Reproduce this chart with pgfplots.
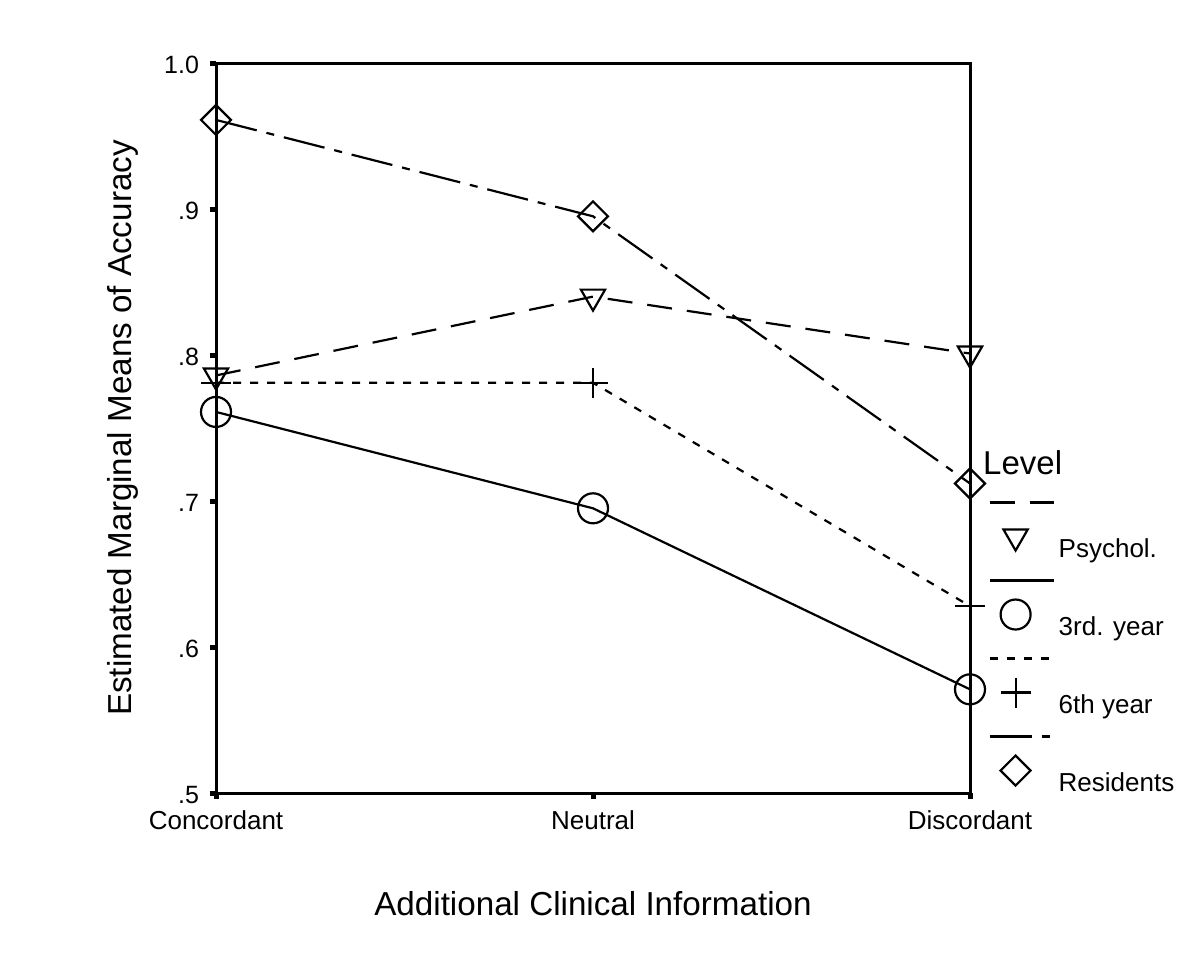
\documentclass[border=0pt]{standalone}
\usepackage{fontspec}
\setmainfont{Liberation Sans}
\usepackage{pgfplots}
\pgfplotsset{compat=1.18}
\begin{document}
\begin{tikzpicture}
\path[use as bounding box] (0,0) rectangle (599.5pt,480pt);
\begin{axis}[
  scale only axis, width=377pt, height=365pt,
  at={(108pt,83.5pt)}, anchor=south west,
  xmin=0, xmax=2, ymin=0.5, ymax=1.0,
  clip=false,
  xtick={0,1,2}, xticklabels={Concordant,Neutral,Discordant},
  ytick={0.5,0.6,0.7,0.8,0.9,1.0}, yticklabels={.5,.6,.7,.8,.9,1.0},
  xtick pos=bottom, ytick pos=left,
  tick align=outside, major tick length=3pt,
  tick style={line width=2.5pt, black},
  axis line style={line width=1.5pt},
  xticklabel style={font=\fontsize{13}{15}\selectfont, yshift=-2.5pt},
  yticklabel style={font=\fontsize{12.5}{15}\selectfont, xshift=-2pt, yshift=-1pt},
  xlabel={Additional Clinical Information},
  ylabel={Estimated Marginal Means of Accuracy},
  label style={font=\fontsize{16.6}{20}\selectfont},
  xlabel style={at={(rel axis cs:0.5,-0.151)}, anchor=center},
  ylabel style={at={(rel axis cs:-0.123,0.5)}, anchor=center},
  legend image code/.code={
    \draw[#1, mark=none] (0pt,23.5pt) -- (32pt,23.5pt);
    \draw[#1] plot coordinates {(13pt,6.5pt)};
  },
  legend style={at={(rel axis cs:1.024,0.40)}, anchor=north west, draw=none, fill=none,
    inner sep=0pt, row sep=7.5pt, font=\fontsize{13}{15}\selectfont},
  legend cell align=left,
]
\addplot[black, line width=1.1pt, dash pattern=on 12.5pt off 7.5pt,
  mark=triangle, mark size=7pt, mark options={solid, rotate=180}]
  coordinates {(0,0.786) (1,0.840) (2,0.801)};
\addlegendentry{Psychol.}
\addplot[black, line width=1.1pt, solid,
  mark=o, mark size=7.5pt, mark options={solid}]
  coordinates {(0,0.761) (1,0.695) (2,0.571)};
\addlegendentry{3rd. year}
\addplot[black, line width=1.1pt, dash pattern=on 4pt off 4.5pt,
  mark=+, mark size=7.5pt, mark options={solid}]
  coordinates {(0,0.781) (1,0.781) (2,0.628)};
\addlegendentry{6th year}
\addplot[black, line width=1.1pt, dash pattern=on 21pt off 5pt on 4pt off 5pt,
  mark=square, mark size=5.3pt, mark options={solid, rotate=45}]
  coordinates {(0,0.961) (1,0.895) (2,0.712)};
\addlegendentry{Residents}
\node[anchor=west, inner sep=0pt, font=\fontsize{16.5}{20}\selectfont] at (rel axis cs:1.017,0.452) {Level};
\end{axis}
\end{tikzpicture}
\end{document}
